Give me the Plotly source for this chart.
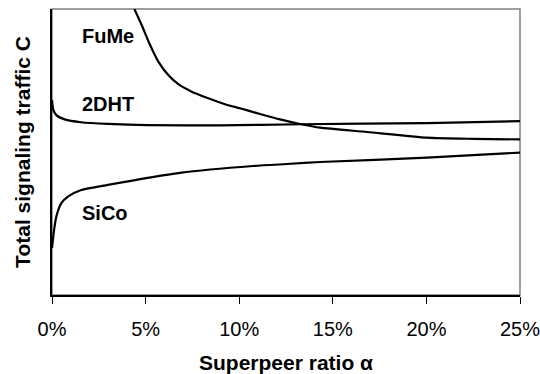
import plotly.graph_objects as go

# Superpeer ratio alpha (fraction) and total signaling traffic (arbitrary units, 0-100)
fume_x = [0.0440, 0.0479, 0.0524, 0.0568, 0.0621, 0.0675, 0.0746, 0.0835, 0.0924, 0.1004,
          0.1111, 0.1218, 0.1325, 0.1432, 0.1683, 0.2003, 0.225, 0.25]
fume_y = [100.0, 94.4, 87.4, 81.6, 76.9, 73.7, 71.1, 68.8, 66.7, 65.3,
          63.3, 61.4, 59.8, 58.5, 57.0, 55.0, 54.6, 54.4]

dht_x = [0.0, 0.0007, 0.0023, 0.0068, 0.0155, 0.0299, 0.0507, 0.0897, 0.1325, 0.2003, 0.25]
dht_y = [68.2, 64.7, 62.9, 61.4, 60.4, 59.8, 59.4, 59.3, 59.7, 60.1, 60.8]

sico_x = [0.0, 0.0011, 0.0023, 0.0050, 0.0085, 0.0156, 0.0299, 0.0684, 0.1074, 0.1255, 0.1432, 0.2003, 0.25]
sico_y = [16.4, 22.7, 27.4, 32.1, 34.4, 36.7, 38.5, 42.7, 45.1, 45.8, 46.5, 48.0, 49.8]

labels = ["FuMe", "2DHT", "SiCo"]
label_x = [0.015, 0.015, 0.015]
label_y = [90.6, 66.8, 28.7]

x_ticks = [0.0, 0.05, 0.10, 0.15, 0.20, 0.25]

FONT = "Liberation Sans, Arial, sans-serif"

fig = go.Figure()
for xs, ys in [(fume_x, fume_y), (dht_x, dht_y), (sico_x, sico_y)]:
    fig.add_trace(go.Scatter(x=xs, y=ys, mode="lines",
                             line=dict(color="black", width=2.2, shape="spline", smoothing=0.6),
                             showlegend=False, hoverinfo="skip", cliponaxis=True))

for t, lx, ly in zip(labels, label_x, label_y):
    fig.add_annotation(x=lx, y=ly, text="<b>%s</b>" % t, showarrow=False,
                       xanchor="left", yanchor="middle",
                       font=dict(family=FONT, size=20, color="black"))

fig.add_shape(type="rect", xref="paper", yref="paper", x0=0, y0=0, x1=1, y1=1,
              line=dict(color="#808080", width=1.5), layer="below")

fig.update_layout(
    width=540, height=374,
    margin=dict(l=52, r=20, t=9, b=79),
    paper_bgcolor="white", plot_bgcolor="white",
    font=dict(family=FONT, size=20, color="black"),
    xaxis=dict(range=[0, 0.25], tickvals=x_ticks, tickformat=".0%", automargin=False,
               ticklabeloverflow="allow", ticklabelstandoff=8,
               showgrid=False, zeroline=False, showline=True, linecolor="black", linewidth=1.5,
               ticks="outside", ticklen=7, tickcolor="black", tickwidth=1,
               title=dict(text="<b>Superpeer ratio α</b>", font=dict(size=21), standoff=22),
               tickfont=dict(size=20)),
    yaxis=dict(range=[0, 100], showticklabels=False, ticks="", showgrid=False, zeroline=False,
               automargin=False,
               showline=True, linecolor="black", linewidth=1.5,
               title=dict(text="<b>Total signaling traffic C</b>", font=dict(size=21), standoff=14)),
)

fig.write_html("out.html", config={"displayModeBar": False},
               post_script="document.body.style.margin='0px';document.body.style.overflow='hidden';")
